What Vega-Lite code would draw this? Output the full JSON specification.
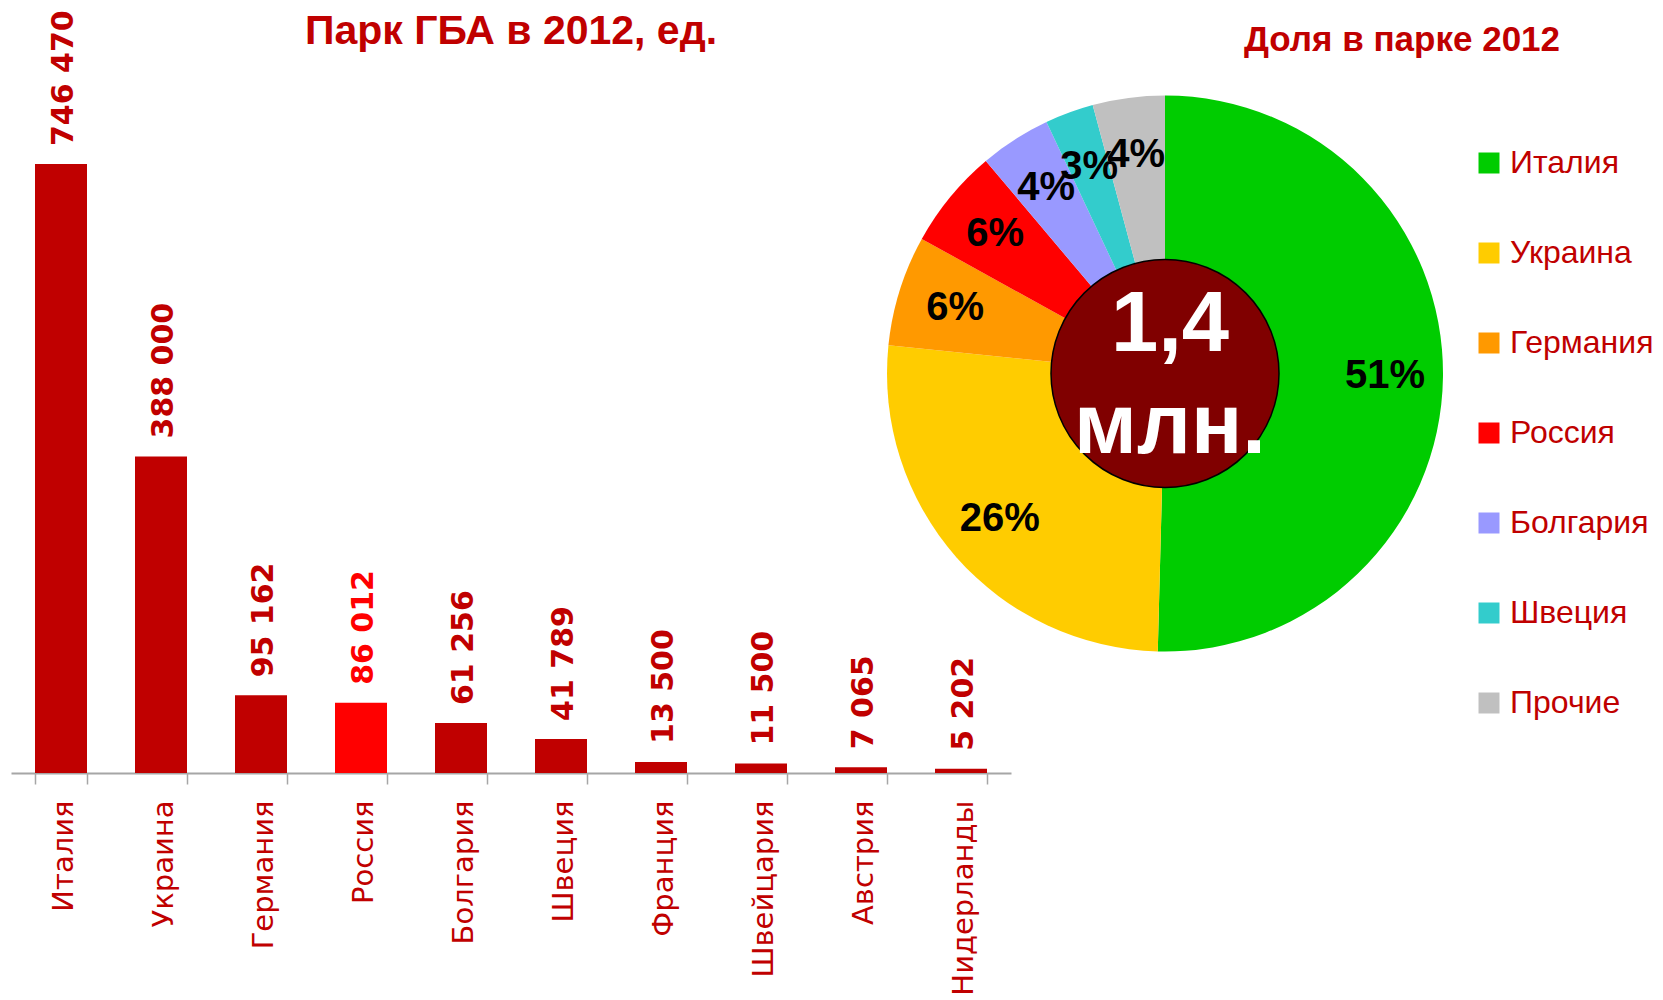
{
  "$schema": "https://vega.github.io/schema/vega-lite/v6.json",
  "background": "white",
  "padding": {"left": -3, "top": 10, "right": 0, "bottom": 0},
  "autosize": {"type": "pad"},
  "bounds": "flush",
  "spacing": 10,
  "config": {
    "view": {"stroke": null},
    "locale": {"number": {"decimal": ",", "thousands": " ", "grouping": [3], "currency": ["", ""]}}
  },
  "hconcat": [
    {
      "width": 1000,
      "height": 609,
      "title": {"text": "Парк ГБА в 2012, ед.", "anchor": "middle", "frame": "group", "offset": -43, "color": "#C00000", "font": "Liberation Sans", "fontSize": 41, "fontWeight": "bold"},
      "data": {"values": [
        {"country": "Италия", "value": 746470},
        {"country": "Украина", "value": 388000},
        {"country": "Германия", "value": 95162},
        {"country": "Россия", "value": 86012},
        {"country": "Болгария", "value": 61256},
        {"country": "Швеция", "value": 41789},
        {"country": "Франция", "value": 13500},
        {"country": "Швейцария", "value": 11500},
        {"country": "Австрия", "value": 7065},
        {"country": "Нидерланды", "value": 5202}
      ]},
      "encoding": {
        "x": {"field": "country", "type": "nominal", "sort": null,
          "scale": {"paddingInner": 0.48, "paddingOuter": 0.24},
          "axis": {"title": null, "labelAngle": -90, "labelColor": "#C00000", "labelFont": "DejaVu Sans", "labelFontSize": 29, "labelLimit": 400, "labelPadding": 16, "labelOffset": 2, "tickSize": 11, "tickBand": "extent", "tickColor": "#A6A6A6", "domainColor": "#A6A6A6", "domainWidth": 2, "tickWidth": 1.5, "grid": false}},
        "y": {"field": "value", "type": "quantitative", "scale": {"domain": [0, 746470], "nice": false}, "axis": null}
      },
      "layer": [
        {"mark": {"type": "bar"},
         "encoding": {"color": {"condition": {"test": "datum.country === 'Россия'", "value": "#FF0000"}, "value": "#C00000"}}},
        {"mark": {"type": "text", "angle": -90, "align": "left", "baseline": "middle", "dx": 18, "dy": 3, "font": "DejaVu Sans", "fontSize": 30, "fontWeight": "bold"},
         "encoding": {"text": {"field": "value", "type": "quantitative", "format": ",d"},
           "color": {"condition": {"test": "datum.country === 'Россия'", "value": "#FF0000"}, "value": "#C00000"}}}
      ]
    },
    {
      "width": 288,
      "height": 419,
      "title": {"text": "Доля в парке 2012", "anchor": "middle", "frame": "group", "dx": 237, "offset": 38, "color": "#C00000", "font": "Liberation Sans", "fontSize": 35, "fontWeight": "bold"},
      "layer": [
        {
          "data": {"values": [
            {"country": "Италия", "value": 746470, "rank": 1, "label": "51%"},
            {"country": "Украина", "value": 388000, "rank": 2, "label": "26%"},
            {"country": "Германия", "value": 95162, "rank": 3, "label": "6%"},
            {"country": "Россия", "value": 86012, "rank": 4, "label": "6%"},
            {"country": "Болгария", "value": 61256, "rank": 5, "label": "4%"},
            {"country": "Швеция", "value": 41789, "rank": 6, "label": "3%"},
            {"country": "Прочие", "value": 62000, "rank": 7, "label": "4%"}
          ]},
          "encoding": {
            "theta": {"field": "value", "type": "quantitative", "stack": true},
            "order": {"field": "rank", "type": "quantitative"}
          },
          "layer": [
            {"mark": {"type": "arc", "outerRadius": 278},
             "encoding": {"color": {"field": "country", "type": "nominal",
               "scale": {"domain": ["Италия", "Украина", "Германия", "Россия", "Болгария", "Швеция", "Прочие"],
                         "range": ["#00CC00", "#FFCC00", "#FF9900", "#FF0000", "#9999FF", "#33CCCC", "#C0C0C0"]},
               "legend": {"title": null, "orient": "none", "legendX": 1462, "legendY": -17, "padding": 0, "symbolType": "square", "symbolSize": 441, "symbolStrokeWidth": 0, "labelFont": "Liberation Sans", "labelFontSize": 32, "labelColor": "#C00000", "labelOffset": 5, "rowPadding": 58, "labelLimit": 400}}}},
            {"mark": {"type": "text", "radius": 220, "align": "center", "baseline": "middle", "font": "Liberation Sans", "fontSize": 40, "fontWeight": "bold", "color": "#000000"},
             "encoding": {"text": {"field": "label", "type": "nominal"}}}
          ]
        },
        {
          "data": {"values": [{"total": "1,4\nмлн."}]},
          "layer": [
            {"mark": {"type": "arc", "theta": 0, "theta2": 6.2832, "outerRadius": 114, "innerRadius": 0, "fill": "#800000", "stroke": "#000000", "strokeWidth": 1.5},
             "encoding": {}},
            {"mark": {"type": "text", "lineBreak": "\n", "lineHeight": 102, "align": "center", "baseline": "middle", "dx": 5, "dy": -49, "font": "Liberation Sans", "fontSize": 85, "fontWeight": "bold", "color": "#FFFFFF"},
             "encoding": {"text": {"field": "total", "type": "nominal"}}}
          ]
        }
      ]
    }
  ]
}
